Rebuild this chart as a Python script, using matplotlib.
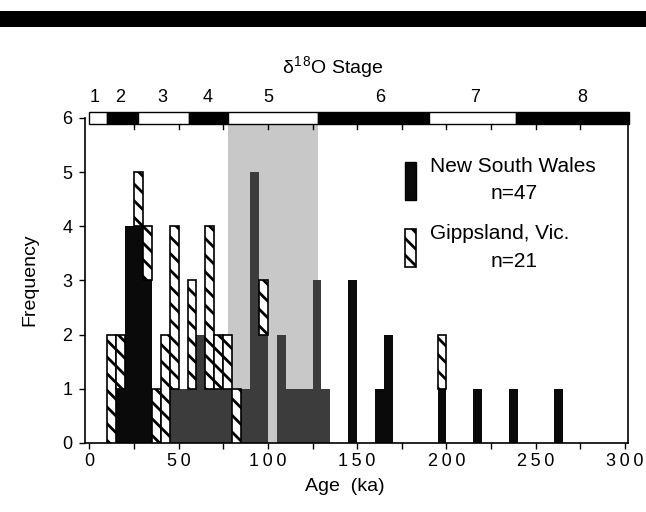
import numpy as np
import matplotlib.pyplot as plt
from matplotlib.patches import Rectangle
from matplotlib.ticker import MultipleLocator, FuncFormatter

plt.rcParams['font.family'] = ['Liberation Sans', 'DejaVu Sans']
plt.rcParams['hatch.linewidth'] = 2.0

# 5 ka bins, left edges
bin_left = np.arange(0, 300, 5)

# counts per bin, keyed by bin left edge
nsw_counts = {15: 1, 20: 4, 25: 4, 30: 3,
              45: 1, 50: 1, 55: 1, 60: 2, 65: 1, 70: 1, 75: 1,
              85: 1, 90: 5, 95: 2, 105: 2, 110: 1, 115: 1, 120: 1,
              125: 3, 130: 1, 145: 3, 160: 1, 165: 2,
              195: 1, 215: 1, 235: 1, 260: 1}
gipps_counts = {10: 2, 15: 1, 25: 1, 30: 1, 35: 1, 40: 2, 45: 3,
                55: 2, 65: 3, 70: 1, 75: 1, 80: 1, 95: 1, 195: 1}

nsw = np.array([nsw_counts.get(b, 0) for b in bin_left])
gipps = np.array([gipps_counts.get(b, 0) for b in bin_left])

# oxygen isotope stages: boundaries (ka) and label positions
stage_edges = [0, 10, 27, 56, 77.5, 128, 190, 239, 302]
stage_names = ['1', '2', '3', '4', '5', '6', '7', '8']
stage_label_x = [3, 17, 41, 66, 100, 163, 216, 276]
shade_range = (77.5, 128)

fig = plt.figure(figsize=(6.46, 5.12), dpi=100)
ax = fig.add_axes([0.1316, 0.1348, 0.8406, 0.6348])

# thick black rule at the top of the page
fig.patches.append(Rectangle((0, 0.947), 1, 0.031, transform=fig.transFigure,
                             facecolor='black', edgecolor='none'))

ax.axvspan(shade_range[0], shade_range[1], ymin=0, ymax=1,
           facecolor='#c8c8c8', edgecolor='none', zorder=0)

nsw_colors = ['#3c3c3c' if 40 <= b < 140 else '#0a0a0a' for b in bin_left]
ax.bar(bin_left[nsw > 0], nsw[nsw > 0], width=5, align='edge',
       color=[c for c, n in zip(nsw_colors, nsw) if n > 0],
       edgecolor='none', zorder=2)
ax.bar(bin_left[gipps > 0], gipps[gipps > 0], width=5, align='edge',
       bottom=nsw[gipps > 0], facecolor='white', edgecolor='black',
       hatch='\\\\', linewidth=1.2, zorder=3)

ax.set_xlim(-2.4, 301.7)
ax.set_ylim(0, 6)

# stage bar along the top
for i in range(len(stage_names)):
    x0, x1 = stage_edges[i], stage_edges[i + 1]
    fc = 'white' if i % 2 == 0 else 'black'
    ax.add_patch(Rectangle((x0, 5.89), x1 - x0, 0.22, facecolor=fc,
                           edgecolor='black', linewidth=1.0,
                           clip_on=False, zorder=6))
    ax.text(stage_label_x[i], 6.37, stage_names[i], ha='center', va='center',
            fontsize=13)

ax.spines['top'].set_visible(False)
for s in ['left', 'right', 'bottom']:
    ax.spines[s].set_linewidth(1.2)

spaced = FuncFormatter(lambda v, p: '\u2009'.join(str(int(round(v)))))
ax.xaxis.set_major_locator(MultipleLocator(50))
ax.xaxis.set_minor_locator(MultipleLocator(25))
ax.xaxis.set_major_formatter(spaced)
ax.tick_params(axis='x', which='both', direction='out', length=4, width=1,
               labelsize=13, pad=3, top=False)
ax.yaxis.set_major_locator(MultipleLocator(1))
ax.tick_params(axis='y', direction='out', length=4, width=1, labelsize=13,
               pad=5)

# inward ticks under the stage bar
for xt in np.arange(25, 300, 25):
    ax.plot([xt, xt], [6, 5.8], color='black', lw=1, zorder=5, clip_on=False)

# legend drawn by hand
ax.add_patch(Rectangle((0.589, 0.748), 0.0197, 0.118, transform=ax.transAxes,
                       facecolor='#0a0a0a', edgecolor='black', zorder=4))
ax.add_patch(Rectangle((0.589, 0.542), 0.0197, 0.116, transform=ax.transAxes,
                       facecolor='white', edgecolor='black', hatch='\\\\',
                       linewidth=1.2, zorder=4))
ax.text(0.636, 0.850, 'New South Wales', transform=ax.transAxes,
        ha='left', va='center', fontsize=15)
ax.text(0.790, 0.769, 'n=47', transform=ax.transAxes,
        ha='center', va='center', fontsize=15)
ax.text(0.636, 0.643, 'Gippsland, Vic.', transform=ax.transAxes,
        ha='left', va='center', fontsize=15)
ax.text(0.790, 0.558, 'n=21', transform=ax.transAxes,
        ha='center', va='center', fontsize=15)

fig.text(0.515, 0.870, r'$\mathregular{\delta^{1\,8}}$O Stage',
         ha='center', va='center', fontsize=14)
fig.text(0.534, 0.049, 'Age  (ka)', ha='center', va='center', fontsize=14)
fig.text(0.046, 0.453, 'Frequency', ha='center', va='center', fontsize=14,
         rotation=90)

fig.savefig('out.png', dpi=100)
